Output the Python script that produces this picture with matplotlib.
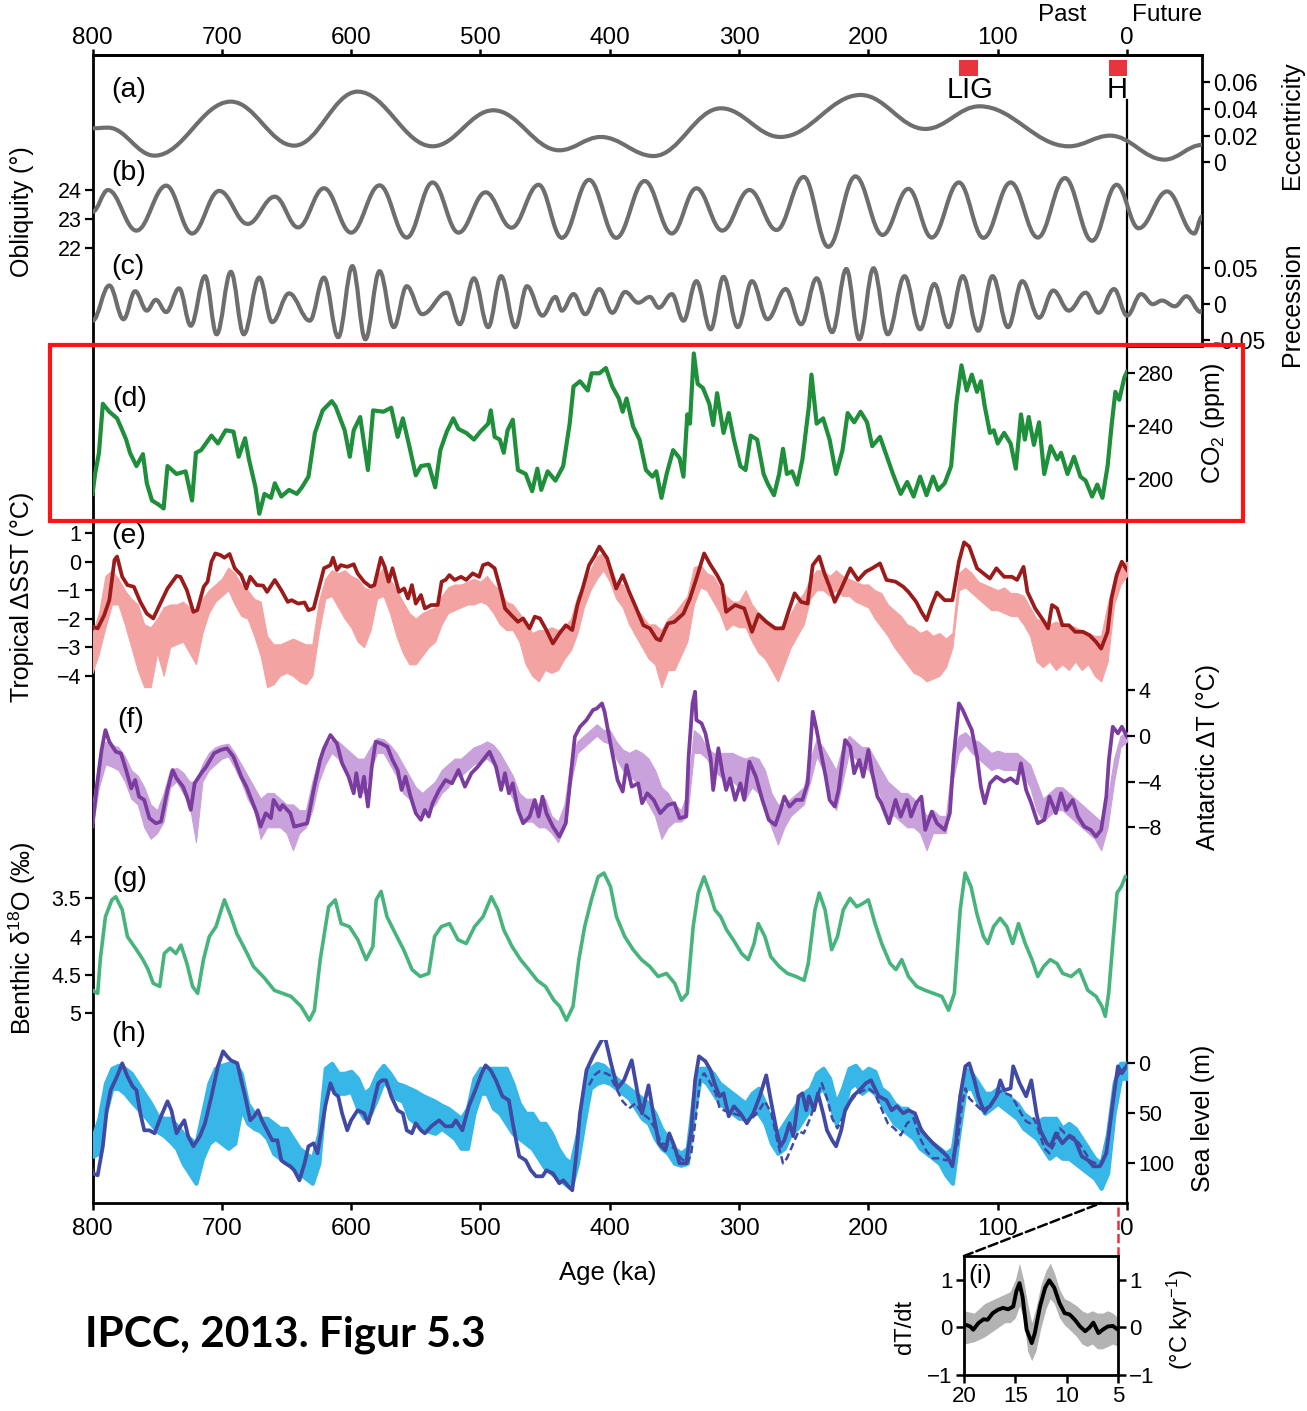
import numpy as np
import matplotlib
matplotlib.use('Agg')
import matplotlib.pyplot as plt
from matplotlib.path import Path
from matplotlib.patches import PathPatch, Rectangle, ConnectionPatch

plt.rcParams['font.family'] = ['Liberation Sans', 'DejaVu Sans']
plt.rcParams['mathtext.fontset'] = 'custom'
plt.rcParams['mathtext.rm'] = 'Liberation Sans'
plt.rcParams['mathtext.it'] = 'Liberation Sans:italic'

# ---------------- data (ages in ka) ----------------
ecc_age = [800, 788, 752, 693, 644, 595, 537, 490, 439, 407, 366, 314, 268, 206, 156, 114, 45, 13, -29, -58]
ecc_val = [0.0255, 0.026, 0.005, 0.0455, 0.0125, 0.053, 0.012, 0.039, 0.009, 0.019, 0.0047, 0.0405, 0.019,
           0.0505, 0.025, 0.042, 0.012, 0.020, 0.002, 0.013]

obl_age = [800, 788, 766, 743, 723, 702, 680, 659, 641, 621, 600, 578, 557, 537, 517, 496, 476, 455, 437, 416,
           395, 373, 352, 333, 313, 292, 271, 250, 231, 210, 189, 169, 151, 130, 111, 90, 69, 48, 27, 8,
           -9, -31, -52, -58]
obl_val = [23.25, 24.0, 22.6, 24.15, 22.5, 23.97, 22.83, 23.77, 22.71, 24.06, 22.53, 24.16, 22.36, 24.26, 22.53,
           23.92, 22.7, 24.18, 22.35, 24.35, 22.35, 24.31, 22.5, 24.06, 22.6, 24.0, 22.62, 24.45, 22.04, 24.47,
           22.45, 24.04, 22.36, 24.26, 22.35, 24.26, 22.36, 24.41, 22.25, 24.18, 22.68, 23.95, 22.5, 23.08]

pre_age = [800, 787, 776, 767, 758, 751, 743, 733, 724, 713, 704, 693, 683, 671, 661, 648, 632, 621, 610, 599,
           589, 578, 567, 557, 545, 526, 516, 505, 494, 484, 473, 464, 452, 442, 437, 428, 419, 408, 398, 388,
           378, 369, 362, 352, 343, 333, 322, 312, 301, 290, 278, 264, 252, 240, 228, 217, 207, 196, 185, 172,
           160, 149, 138, 127, 115, 104, 92, 81, 68, 57, 45, 32, 22, 10, 0, -11, -20, -27, -37, -46, -57, -58]
pre_val = [-0.023, 0.026, -0.021, 0.018, -0.009, 0.006, -0.011, 0.022, -0.030, 0.039, -0.042, 0.045, -0.042,
           0.037, -0.025, 0.015, -0.023, 0.037, -0.046, 0.053, -0.049, 0.046, -0.032, 0.025, -0.014, 0.016,
           -0.028, 0.036, -0.032, 0.039, -0.032, 0.025, -0.016, 0.010, -0.009, 0.014, -0.014, 0.021, -0.012,
           0.017, 0.002, 0.010, -0.005, 0.014, -0.023, 0.032, -0.035, 0.038, -0.032, 0.032, -0.021, 0.021,
           -0.028, 0.036, -0.039, 0.049, -0.049, 0.050, -0.042, 0.039, -0.035, 0.028, -0.032, 0.039, -0.037,
           0.039, -0.032, 0.032, -0.019, 0.019, -0.009, 0.016, -0.012, 0.021, -0.016, 0.014, 0.0, 0.005,
           -0.003, 0.011, -0.011, -0.009]

co2_age = [800, 798, 795, 792, 787, 781, 777, 774, 771, 766, 761, 758, 754, 749, 745, 742, 735, 728, 723, 720,
           716, 708, 703, 697, 691, 687, 682, 679, 674, 671, 667, 662, 659, 654, 648, 642, 638, 633, 628, 622,
           615, 612, 605, 601, 598, 593, 587, 583, 575, 569, 564, 560, 555, 550, 546, 540, 535, 531, 526, 521,
           517, 511, 505, 500, 494, 492, 489, 485, 482, 479, 475, 471, 465, 460, 456, 453, 448, 442, 436, 431,
           428, 423, 417, 414, 408, 403, 398, 393, 390, 387, 382, 377, 372, 367, 364, 360, 356, 351, 346, 343,
           340, 338, 335, 332, 328, 323, 320, 317, 312, 308, 304, 299, 295, 291, 286, 281, 278, 273, 269, 266,
           263, 259, 255, 251, 246, 244, 240, 235, 230, 225, 220, 216, 211, 206, 201, 197, 191, 186, 181, 175,
           170, 165, 160, 155, 150, 146, 141, 136, 132, 128, 124, 120, 116, 113, 110, 106, 103, 100, 95, 90,
           86, 82, 79, 76, 72, 68, 64, 59, 54, 51, 46, 41, 36, 32, 27, 23, 19, 15, 12, 9, 6, 2, 0]
co2_val = [189, 204, 220, 257, 251, 246, 237, 230, 220, 210, 219, 197, 184, 181, 178, 210, 204, 206, 184, 220,
           222, 233, 227, 237, 236, 217, 231, 215, 194, 174, 189, 186, 197, 187, 192, 189, 194, 202, 235, 252,
           259, 255, 237, 217, 237, 247, 207, 252, 251, 254, 232, 246, 225, 203, 210, 211, 194, 222, 236, 246,
           238, 235, 230, 236, 242, 252, 232, 230, 220, 237, 245, 207, 204, 191, 208, 192, 206, 199, 210, 242,
           270, 274, 267, 280, 280, 284, 270, 261, 251, 261, 240, 230, 207, 202, 206, 186, 204, 222, 216, 202,
           249, 242, 295, 272, 269, 257, 241, 265, 235, 250, 230, 210, 207, 233, 230, 204, 197, 188, 204, 223,
           204, 206, 196, 215, 255, 279, 242, 246, 230, 204, 222, 250, 243, 251, 243, 225, 232, 218, 204, 189,
           198, 187, 202, 188, 202, 192, 197, 210, 257, 286, 267, 279, 266, 274, 255, 235, 237, 227, 235, 227,
           208, 249, 230, 247, 226, 243, 204, 225, 215, 220, 204, 217, 202, 199, 187, 196, 186, 210, 240, 266,
           260, 277, 281]

sst_age = [800, 796, 791, 787, 783, 781, 777, 773, 768, 763, 758, 753, 747, 742, 735, 732, 727, 722, 719, 714,
           711, 708, 705, 701, 698, 694, 690, 685, 681, 678, 673, 668, 665, 659, 654, 649, 646, 641, 636, 633,
           629, 626, 621, 616, 614, 611, 608, 603, 598, 595, 590, 585, 582, 577, 574, 571, 568, 563, 559, 556,
           553, 550, 546, 543, 538, 533, 530, 527, 524, 520, 515, 511, 506, 501, 498, 494, 489, 484, 481, 476,
           471, 467, 462, 458, 454, 449, 444, 439, 434, 429, 425, 421, 416, 412, 408, 402, 395, 390, 385, 380,
           374, 369, 364, 361, 355, 350, 343, 338, 333, 327, 322, 317, 313, 310, 303, 296, 290, 285, 279, 272,
           266, 261, 257, 252, 247, 243, 238, 234, 230, 226, 221, 214, 208, 202, 197, 191, 186, 179, 173, 169,
           163, 159, 155, 151, 147, 141, 135, 130, 126, 122, 116, 111, 106, 101, 95, 89, 85, 80, 77, 71,
           64, 61, 58, 54, 50, 45, 40, 34, 29, 24, 20, 15, 12, 8, 4, 0]
sst_val = [-2.29, -2.34, -1.88, -1.35, 0.06, 0.18, -0.53, -0.82, -0.88, -1.41, -1.82, -1.99, -1.41, -0.94, -0.5,
           -0.53, -1.0, -1.76, -1.7, -0.88, -0.7, 0.0, 0.29, 0.23, 0.14, 0.27, -0.23, -0.47, -0.94, -0.53, -0.82,
           -0.84, -1.06, -0.64, -1.0, -1.41, -1.35, -1.47, -1.43, -1.7, -1.64, -1.11, -0.23, -0.12, 0.14, -0.29,
           -0.12, -0.18, -0.09, -0.41, -0.7, -0.88, -0.82, 0.14, -0.18, -0.7, -0.23, -1.06, -0.94, -1.29, -0.82,
           -1.47, -1.17, -1.64, -1.52, -1.52, -0.7, -0.64, -0.47, -0.64, -0.53, -0.64, -0.41, -0.53, -0.12, -0.06,
           -0.23, -1.06, -1.64, -1.88, -2.11, -1.99, -2.34, -1.93, -1.99, -2.4, -2.87, -2.52, -2.23, -2.4, -1.52,
           -0.94, -0.12, 0.18, 0.53, 0.12, -0.94, -0.47, -1.06, -1.58, -2.23, -2.34, -2.7, -2.76, -2.17, -2.11,
           -1.82, -1.29, -0.59, 0.29, -0.12, -0.47, -0.82, -1.76, -1.52, -1.64, -2.46, -1.85, -2.11, -2.34, -2.34,
           -1.64, -1.11, -1.41, -1.47, -0.12, 0.18, -0.41, -0.88, -1.41, -0.94, -0.23, -0.64, -0.35, -0.23, -0.06,
           -0.64, -0.7, -0.88, -1.06, -1.41, -1.76, -2.05, -1.52, -1.08, -1.35, -1.35, 0.0, 0.68, 0.53, -0.23,
           -0.41, -0.59, -0.23, -0.53, -0.53, -0.64, -0.18, -1.06, -1.64, -2.11, -2.34, -1.52, -1.64, -2.23, -2.23,
           -2.46, -2.46, -2.58, -2.81, -3.05, -2.46, -1.29, -0.47, 0.0, -0.29]

band_age = np.arange(800, -1, -5)
sst_top = [-2.5, -1.8, -0.5, -0.3, -0.6, -1.0, -1.3, -1.5, -2.2, -2.3,
           -2.0, -1.6, -1.5, -1.5, -1.4, -1.6, -1.8, -1.3, -1.0, -0.8,
           -0.6, -0.2, -0.4, -0.8, -1.0, -1.3, -1.4, -2.6, -2.9, -2.9,
           -2.8, -2.7, -2.8, -2.9, -2.9, -1.4, -0.6, -0.3, -0.4, -0.3,
           -0.5, -0.6, -0.9, -1.0, -0.5, -0.2, -0.6, -1.0, -1.4, -1.8,
           -2.0, -1.8, -1.7, -1.6, -1.2, -0.9, -0.8, -0.8, -0.7, -0.6,
           -0.7, -0.5, -0.8, -1.0, -1.4, -1.5, -1.8, -2.1, -2.5, -2.4,
           -2.4, -2.3, -2.4, -2.3, -2.0, -1.2, -0.8, -0.3, 0.2, 0.3,
           -0.1, -0.7, -0.8, -1.3, -1.6, -1.9, -2.2, -2.2, -2.4, -2.0,
           -1.8, -1.5, -1.2, -0.2, -0.1, -0.4, -0.5, -0.9, -1.2, -1.4,
           -1.4, -1.0, -1.5, -1.8, -2.0, -2.2, -2.3, -2.2, -1.8, -1.4,
           -1.1, -0.6, -0.3, -0.3, -0.5, -0.3, -0.5, -0.6, -0.7, -0.8,
           -0.8, -1.0, -1.1, -1.5, -1.7, -1.9, -2.2, -2.3, -2.5, -2.4,
           -2.6, -2.5, -2.7, -2.5, -0.4, -0.2, -0.4, -0.7, -0.8, -0.9,
           -1.0, -0.9, -1.1, -1.1, -1.2, -1.6, -2.0, -2.1, -2.2, -2.1,
           -2.2, -2.2, -2.3, -2.4, -2.5, -2.6, -2.6, -1.5, -0.6, -0.1,
           0.0]
sst_bot = [-3.9, -3.2, -2.3, -1.5, -1.5, -2.2, -3.0, -3.8, -4.4, -4.4,
           -3.2, -4.0, -3.0, -2.9, -2.8, -3.2, -3.6, -2.5, -1.8, -1.4,
           -1.2, -1.0, -1.5, -1.9, -2.0, -2.6, -3.3, -4.4, -4.3, -4.0,
           -3.9, -4.0, -4.2, -4.3, -4.0, -2.5, -1.3, -1.2, -1.6, -2.0,
           -2.3, -2.8, -3.0, -2.4, -1.3, -1.2, -1.8, -2.6, -3.2, -3.6,
           -3.6, -3.3, -3.0, -2.8, -2.2, -1.8, -1.7, -1.6, -1.5, -1.5,
           -1.4, -1.5, -1.8, -2.2, -2.4, -2.4, -2.8, -3.6, -4.0, -4.2,
           -3.8, -3.9, -3.8, -3.4, -3.1, -2.5, -1.6, -1.0, -0.6, -0.3,
           -0.7, -1.3, -1.6, -2.2, -2.6, -3.0, -3.4, -3.6, -4.4, -3.8,
           -3.8, -3.3, -2.8, -1.5, -0.9, -1.0, -1.4, -1.8, -2.4, -2.2,
           -2.3, -2.3, -2.8, -3.2, -3.4, -3.8, -4.2, -3.6, -3.0, -2.6,
           -2.2, -1.3, -1.0, -1.0, -1.2, -1.0, -1.2, -1.2, -1.4, -1.5,
           -1.6, -2.0, -2.3, -2.6, -3.0, -3.3, -3.6, -3.9, -4.0, -4.2,
           -4.1, -4.0, -3.7, -3.0, -1.0, -0.9, -1.1, -1.3, -1.5, -1.7,
           -1.7, -1.8, -1.9, -1.9, -2.2, -2.6, -3.5, -3.7, -3.5, -3.8,
           -3.6, -3.8, -3.5, -3.8, -3.6, -4.0, -4.2, -3.5, -1.5, -0.8,
           -0.5]

ant_age = [800, 797, 793, 790, 787, 782, 778, 774, 770, 767, 764, 760, 756, 751, 747, 742, 738, 735, 730, 727,
           724, 721, 716, 712, 706, 701, 696, 691, 688, 685, 681, 677, 673, 670, 666, 662, 660, 655, 653, 647,
           644, 639, 634, 629, 624, 621, 616, 611, 607, 602, 598, 596, 593, 590, 587, 584, 581, 577, 572, 568,
           564, 561, 558, 554, 550, 546, 543, 540, 537, 532, 527, 522, 517, 512, 507, 502, 498, 493, 488, 484,
           481, 478, 475, 471, 467, 462, 458, 455, 452, 449, 444, 439, 434, 430, 427, 423, 418, 413, 410, 406,
           404, 399, 394, 390, 387, 383, 378, 375, 371, 366, 361, 355, 350, 346, 341, 339, 336, 334, 333, 329,
           326, 322, 320, 316, 313, 310, 307, 303, 299, 296, 292, 287, 282, 277, 272, 268, 265, 261, 256, 251,
           247, 243, 240, 237, 233, 230, 226, 223, 218, 214, 211, 207, 204, 200, 197, 193, 190, 184, 179, 175,
           170, 167, 163, 159, 156, 151, 147, 141, 137, 134, 130, 127, 123, 120, 116, 113, 110, 106, 101, 95,
           90, 85, 82, 78, 74, 69, 64, 60, 55, 51, 47, 42, 38, 33, 28, 24, 20, 16, 14, 11, 7, 4, 0]
ant_val = [-7.8, -4.74, -1.25, 0.49, -0.52, -1.4, -1.54, -3.0, -4.6, -3.87, -5.32, -5.61, -7.2, -7.65, -7.5,
           -4.74, -3.0, -3.72, -4.45, -5.32, -6.48, -4.16, -3.28, -2.7, -1.54, -1.25, -1.1, -1.83, -2.7, -3.58,
           -4.45, -5.61, -6.77, -7.94, -6.77, -7.2, -5.61, -6.48, -6.05, -6.77, -7.94, -7.8, -7.65, -4.74, -2.12,
           -1.1, 0.06, -0.67, -2.41, -3.58, -5.03, -3.28, -5.32, -3.58, -6.19, -2.7, -0.52, -0.67, -0.96, -2.12,
           -3.0, -4.74, -3.58, -5.32, -6.77, -7.35, -6.48, -7.06, -5.9, -4.74, -3.87, -4.16, -3.0, -4.45, -3.28,
           -2.7, -2.12, -1.4, -2.7, -4.74, -3.28, -5.03, -4.16, -6.48, -7.65, -7.06, -5.61, -7.06, -5.32, -6.77,
           -7.94, -8.81, -7.65, -3.28, -0.09, 0.78, 1.37, 2.24, 2.38, 2.82,
           2.09, -0.96, -3.87, -4.88, -2.56, -4.45, -4.16, -5.9, -5.03, -5.61, -6.77, -6.05, -5.9, -7.2, -7.06,
           -1.83, 2.82, 3.84, 1.37, 1.08, 0.2, -1.98, -4.74, -1.1, -3.14, -4.74, -3.72, -5.61, -4.16, -5.61,
           -2.27, -3.58, -5.61, -7.35, -7.8, -6.48, -5.32, -6.19, -5.61, -5.61, -4.16, 2.09, 0.49, -1.25, -3.58,
           -5.61, -6.19, -4.74, -0.38, -0.96, -3.28, -2.12, -3.58, -1.25, -3.28, -5.32, -5.9, -7.65, -5.61,
           -7.06, -5.61, -7.06, -5.9, -5.32, -8.23, -6.63, -7.65, -8.23, -6.77, -1.83, 2.82, 2.24, 1.22, 0.49,
           -1.83, -4.45, -5.9, -4.16, -3.58, -4.01, -3.72, -4.16, -2.41, -4.74, -5.9, -7.65, -7.35, -5.32, -6.77,
           -5.03, -6.48, -5.61, -7.06, -7.94, -8.23, -8.81, -8.23, -5.32, -2.12, 0.78, 0.2, 0.78, -0.09]

ant_top = [-6.0, -2.0, -0.5, -0.8, -1.0, -1.8, -3.0, -3.5, -4.5, -6.0,
           -6.5, -5.0, -3.0, -2.8, -3.2, -4.0, -4.0, -2.5, -1.5, -1.0,
           -0.8, -0.7, -1.5, -2.5, -3.5, -4.5, -5.5, -5.0, -5.0, -5.5,
           -6.0, -6.0, -6.5, -6.5, -4.0, -2.0, -1.0, -0.3, -0.5, -1.0,
           -1.5, -2.0, -2.0, -1.0, -0.2, -0.3, -0.8, -1.5, -2.5, -3.5,
           -4.5, -5.0, -4.5, -4.0, -3.0, -2.5, -2.0, -2.0, -1.5, -1.0,
           -0.8, -0.5, -0.8, -1.5, -2.5, -3.5, -5.0, -5.5, -5.5, -6.0,
           -5.5, -7.0, -7.5, -6.0, -2.0, -0.5, 0.0, 0.5, 1.0, 0.5,
           0.5, -0.5, -1.2, -1.5, -1.2, -1.5, -2.0, -3.0, -4.5, -5.0,
           -6.0, -6.5, -5.0, 0.5, 0.0, -1.0, -1.5, -1.5, -1.5, -1.5,
           -1.8, -2.0, -1.8, -2.0, -3.0, -5.0, -6.0, -6.0, -5.5, -5.0,
           -4.5, -2.0, -0.3, -1.0, -2.0, -3.0, -1.0, 0.0, -0.5, -1.0,
           -1.0, -2.0, -3.0, -4.0, -4.5, -5.0, -5.0, -5.5, -6.0, -7.0,
           -6.5, -7.0, -7.0, -2.0, 0.0, 0.3, -0.3, -0.5, -1.0, -1.5,
           -1.3, -1.5, -1.5, -1.5, -2.0, -2.5, -4.0, -5.5, -5.0, -4.5,
           -4.5, -5.0, -5.5, -6.0, -6.5, -7.0, -7.5, -5.5, -2.0, 0.0,
           0.3]
ant_bot = [-8.0, -4.5, -2.5, -2.7, -3.0, -4.0, -5.5, -6.0, -8.0, -9.0,
           -8.5, -7.5, -4.5, -4.0, -5.0, -6.0, -9.3, -4.0, -3.0, -2.5,
           -2.0, -1.8, -2.8, -4.0, -5.5, -6.5, -9.0, -8.0, -8.0, -8.0,
           -8.5, -10.0, -8.5, -8.0, -6.5, -4.0, -2.5, -1.5, -2.0, -3.0,
           -4.0, -4.5, -5.0, -3.0, -1.5, -1.5, -2.5, -3.5, -5.0, -5.5,
           -6.5, -7.0, -6.5, -6.0, -5.0, -4.5, -3.5, -3.5, -3.0, -2.5,
           -2.3, -2.0, -2.5, -3.5, -4.5, -5.5, -7.0, -7.5, -7.5, -8.0,
           -8.0, -8.5, -9.3, -8.0, -4.0, -1.5, -1.0, -0.5, 0.0, -0.5,
           -0.7, -2.0, -3.0, -3.5, -4.0, -5.0, -6.0, -7.0, -9.0, -8.0,
           -7.5, -7.5, -7.0, -1.5, -1.5, -2.0, -3.0, -3.5, -4.0, -4.0,
           -4.5, -5.5, -4.5, -5.0, -6.5, -8.0, -9.5, -8.0, -7.0, -6.5,
           -6.0, -4.0, -1.8, -3.0, -5.0, -6.5, -4.0, -1.5, -2.0, -2.5,
           -3.0, -4.0, -5.5, -7.0, -7.0, -7.5, -8.0, -8.0, -8.5, -10.0,
           -8.5, -8.5, -8.5, -4.0, -1.5, -0.8, -1.5, -2.0, -2.5, -3.0,
           -2.8, -3.0, -3.0, -3.0, -3.5, -4.5, -6.5, -7.5, -7.0, -6.5,
           -6.5, -7.0, -7.5, -8.0, -8.5, -9.0, -10.0, -8.0, -4.0, -1.0,
           -0.5]

d18o_age = [800, 796, 794, 790, 785, 782, 777, 773, 766, 761, 757, 753, 748, 744.5, 740, 735.5, 731.6, 727,
            722.6, 718.7, 714.2, 709.7, 704.5, 698, 692.9, 688.4, 681.9, 675.5, 667, 659.4, 652.9, 646.5, 638.7,
            632.3, 628.4, 623.9, 617.4, 612.3, 607.7, 601.3, 594.8, 588.4, 583.2, 580.6, 576.8, 572.3, 565.8,
            559.4, 552.9, 546.5, 540, 535.5, 530.3, 523.9, 517.4, 511, 504.5, 498, 491.6, 486.5, 482, 475.5, 469,
            462.6, 456.1, 449.7, 443.2, 438.7, 433.5, 428.4, 423.9, 419.4, 414.2, 409, 404.5, 399.4, 394.8, 388.4,
            381.9, 375.5, 369, 362.6, 356.1, 349.7, 344.5, 340, 335.5, 331.6, 327.1, 322.6, 318.7, 314.2, 309.7,
            304.5, 298, 292.9, 288.4, 285.2, 280, 275.5, 269, 262.6, 256.1, 249.7, 246.5, 241.3, 238, 233.5,
            228.4, 223.9, 219.4, 214.2, 209, 204.5, 200, 194.8, 189.7, 183.2, 178.7, 174.2, 169, 162.6, 156.1,
            149.7, 143.2, 138, 133.5, 129, 125.2, 120.6, 116.1, 111, 107.7, 103.2, 98.1, 92.9, 88.4, 83.9, 78.7,
            73.5, 69, 64.5, 59.4, 54.2, 49.7, 43.2, 36.8, 30.3, 23.9, 19.4, 16.8, 14.2, 11, 7.7, 4.5, 1.3]
d18o_val = [4.70, 4.74, 4.30, 3.74, 3.52, 3.48, 3.65, 4.0, 4.17, 4.30, 4.43, 4.61, 4.65, 4.22, 4.15, 4.22, 4.11,
            4.35, 4.65, 4.74, 4.30, 4.0, 3.87, 3.52, 3.74, 3.96, 4.17, 4.39, 4.54, 4.70, 4.74, 4.78, 4.91, 5.09,
            4.96, 4.30, 3.61, 3.52, 3.83, 3.87, 4.04, 4.30, 4.13, 3.52, 3.41, 3.74, 3.96, 4.17, 4.43, 4.52, 4.48,
            4.0, 3.87, 3.83, 4.04, 4.09, 3.87, 3.74, 3.48, 3.65, 3.91, 4.13, 4.30, 4.43, 4.57, 4.65, 4.83, 4.91,
            5.09, 4.91, 4.30, 3.87, 3.52, 3.22, 3.17, 3.35, 3.74, 4.0, 4.17, 4.30, 4.39, 4.52, 4.48, 4.61, 4.83,
            4.74, 3.87, 3.43, 3.22, 3.43, 3.65, 3.74, 3.91, 4.04, 4.22, 4.30, 4.09, 3.83, 4.0, 4.26, 4.39, 4.48,
            4.52, 4.57, 4.35, 3.65, 3.43, 3.65, 4.17, 4.0, 3.65, 3.5, 3.61, 3.57, 3.52, 3.83, 4.09, 4.35, 4.43,
            4.30, 4.52, 4.65, 4.70, 4.74, 4.78, 4.96, 4.74, 3.65, 3.17, 3.35, 3.70, 4.0, 4.09, 3.87, 3.76, 3.87,
            4.09, 3.83, 4.09, 4.30, 4.52, 4.39, 4.30, 4.35, 4.48, 4.52, 4.43, 4.70, 4.78, 4.91, 5.04, 4.74, 4.09,
            3.43, 3.35, 3.22]

# sea level, metres below present
sl_age = [803, 800, 796, 792, 789, 786, 781, 777, 773, 769, 766, 763, 760, 756, 752, 747, 742, 739, 735, 732,
          729, 726, 722, 717, 713, 708, 703, 699, 696, 693, 688, 685, 682, 678, 675, 672, 669, 665, 661, 657,
          654, 651, 647, 644, 640, 636, 633, 629, 626, 623, 620, 616, 613, 610, 607, 603, 600, 595, 590, 587,
          584, 579, 576, 573, 569, 564, 560, 557, 553, 550, 546, 543, 538, 535, 532, 527, 522, 519, 514, 509,
          504, 499, 496, 492, 488, 483, 478, 475, 470, 465, 461, 457, 452, 449, 444, 439, 436, 432, 429, 426,
          423, 418, 413, 408, 404, 399, 394, 389, 383, 378, 375, 370, 366, 362, 357, 354, 350, 346, 341, 337,
          334, 331, 326, 322, 319, 315, 312, 308, 304, 299, 294, 289, 284, 279, 275, 271, 268, 265, 261, 258,
          254, 251, 248, 246, 242, 239, 235, 232, 228, 225, 221, 218, 212, 207, 202, 198, 195, 192, 186, 182,
          178, 173, 169, 164, 159, 155, 150, 144, 139, 135, 132, 129, 125, 122, 118, 115, 111, 106, 101, 98,
          95, 90, 88, 83, 78, 74, 70, 67, 62, 59, 55, 50, 45, 40, 35, 30, 26, 21, 16, 13, 10, 7, 4, 0]
sl_val = [90, 110, 112, 83, 47, 27, 13, 0, 13, 23, 27, 50, 67, 67, 70, 53, 38, 47, 70, 63,
          57, 73, 83, 73, 60, 33, 3, -12, -7, -3, 0, 17, 33, 57, 53, 47, 57, 67, 77, 77,
          97, 100, 103, 107, 117, 100, 83, 80, 90, 67, 43, 20, 30, 33, 50, 67, 57, 47, 50, 60,
          47, 20, 17, 17, 33, 47, 50, 67, 70, 60, 67, 70, 63, 60, 57, 63, 63, 57, 67, 43,
          27, 10, 2, 7, 17, 33, 37, 60, 93, 97, 107, 113, 113, 107, 110, 120, 117, 123, 127, 93,
          50, 7, -7, -19, -28, 0, 25, 17, -3, 33, 50, 22, 53, 80, 87, 70, 83, 100, 100, 67,
          17, -7, -2, 7, 20, 33, 30, 53, 43, 50, 60, 50, 33, 12, 40, 67, 83, 77, 60, 73,
          33, 30, 47, 33, 47, 30, 50, 67, 77, 83, 67, 47, 33, 27, 20, 17, 25, 33, 37, 47,
          43, 50, 47, 50, 67, 73, 80, 87, 93, 103, 77, 33, 3, 0, 17, 33, 47, 43, 33, 17,
          27, 25, 3, 20, 33, 17, 50, 67, 80, 83, 70, 80, 73, 77, 93, 97, 103, 103, 90, 60, 30, 3, 10, 2]

sl2_age = [416, 412, 408, 403, 400, 395, 390, 385, 380, 375, 370, 365, 360, 355, 350, 345, 340, 337, 333, 330,
           327, 322, 318, 315, 310, 305, 300, 295, 290, 285, 280, 275, 270, 266, 263, 258, 254, 250, 245, 240,
           236, 232, 228, 224, 220, 215, 210, 205, 200, 195, 190, 185, 180, 175, 170, 165, 160, 155, 150, 145,
           140, 135, 131, 128, 125, 122, 118, 114, 110, 106, 102, 98, 94, 90, 86, 82, 78, 75, 72, 68,
           64, 60, 56, 52, 48, 44, 40, 36, 32, 28, 24, 20, 17, 14, 11, 8, 5, 2]
sl2_val = [22, 12, 8, 10, 12, 25, 38, 45, 40, 50, 55, 65, 80, 82, 85, 95, 100, 90, 50, 15,
           10, 20, 30, 45, 48, 50, 52, 58, 55, 48, 38, 50, 80, 100, 95, 80, 68, 70, 55, 35,
           20, 35, 55, 65, 55, 40, 32, 28, 25, 30, 45, 60, 65, 72, 60, 55, 75, 88, 95, 95,
           97, 95, 80, 45, 25, 35, 40, 45, 50, 42, 35, 28, 30, 32, 40, 50, 58, 60, 55, 68,
           85, 90, 80, 65, 70, 72, 75, 82, 90, 98, 100, 102, 95, 70, 40, 15, 8, 5]

sl_top = [75, 55, 20, 5, 2, 5, 10, 20, 30, 40,
          52, 55, 55, 62, 70, 75, 80, 50, 20, 5,
          2, 0, 0, 10, 40, 50, 55, 55, 60, 65,
          65, 75, 85, 90, 95, 70, 5, 0, 10, 10,
          8, 15, 30, 25, 10, 2, 10, 20, 22, 25,
          28, 32, 35, 38, 42, 45, 50, 55, 45, 15,
          5, 5, 5, 5, 5, 20, 40, 50, 50, 60,
          60, 70, 85, 95, 100, 70, 25, 5, 0, 2,
          8, 15, 20, 25, 30, 35, 40, 50, 65, 75,
          85, 90, 85, 30, 5, 5, 10, 20, 25, 30,
          35, 40, 30, 25, 40, 60, 70, 60, 50, 40,
          30, 25, 10, 5, 15, 40, 25, 5, 2, 10,
          5, 8, 25, 30, 40, 45, 45, 55, 65, 75,
          80, 85, 90, 85, 40, 5, 10, 20, 30, 30,
          25, 30, 35, 40, 50, 55, 60, 55, 55, 55,
          65, 60, 65, 75, 85, 95, 100, 70, 20, 0,
          0]
sl_bot = [93, 90, 50, 25, 25, 30, 38, 45, 52, 60,
          68, 72, 78, 85, 100, 110, 120, 95, 80, 75,
          80, 85, 80, 45, 60, 65, 68, 75, 90, 95,
          100, 105, 110, 115, 120, 100, 30, 20, 30, 30,
          28, 45, 55, 50, 35, 18, 25, 35, 38, 55,
          60, 65, 68, 70, 65, 70, 75, 85, 85, 50,
          30, 30, 45, 50, 60, 70, 75, 80, 85, 95,
          105, 110, 115, 120, 125, 100, 60, 25, 20, 18,
          20, 25, 30, 35, 45, 55, 60, 75, 85, 90,
          100, 102, 100, 50, 15, 20, 30, 40, 45, 50,
          55, 55, 50, 50, 60, 80, 90, 85, 70, 65,
          55, 45, 30, 25, 40, 60, 50, 25, 20, 30,
          25, 30, 40, 50, 60, 65, 70, 75, 85, 90,
          95, 100, 112, 120, 70, 25, 25, 40, 50, 45,
          40, 45, 50, 55, 65, 70, 75, 85, 95, 90,
          95, 95, 100, 105, 110, 115, 125, 110, 50, 15,
          15]

dtdt_age = [19.9, 19.4, 19.1, 18.6, 18.1, 17.7, 17.2, 16.7, 16.2, 15.7, 15.2, 14.9, 14.6, 14.3, 13.9, 13.4,
            13.1, 12.6, 12.1, 11.7, 11.2, 10.7, 10.2, 9.7, 9.2, 8.7, 8.2, 7.8, 7.4, 6.9, 6.5, 6.0, 5.5, 5.0]
dtdt_val = [0.06, 0.02, -0.05, 0.09, 0.17, 0.16, 0.30, 0.37, 0.41, 0.38, 0.44, 0.76, 0.93, 0.65, -0.05, -0.33,
            -0.12, 0.44, 0.83, 0.99, 0.83, 0.51, 0.30, 0.27, 0.16, 0.02, -0.08, -0.01, 0.10, -0.12, -0.05, 0.02,
            0.03, -0.05]
dtdt_band_age = [20, 19, 18, 17, 16, 15.5, 15, 14.6, 14.2, 13.8, 13.4, 13.0, 12.5, 12.0, 11.6, 11.2, 10.7,
                 10.2, 9.7, 9.0, 8.5, 8.0, 7.5, 7.0, 6.5, 6.0, 5.5, 5.0]
dtdt_hi = [0.35, 0.3, 0.5, 0.6, 0.7, 0.75, 1.0, 1.35, 1.0, 0.5, 0.1, 0.4, 0.9, 1.2, 1.35, 1.15, 0.8, 0.6, 0.55,
           0.45, 0.35, 0.3, 0.35, 0.3, 0.3, 0.35, 0.3, 0.2]
dtdt_lo = [-0.35, -0.3, -0.2, -0.05, 0.1, 0.1, 0.2, 0.45, 0.2, -0.5, -0.7, -0.5, 0.0, 0.4, 0.6, 0.5, 0.2, 0.05,
           -0.05, -0.2, -0.35, -0.4, -0.35, -0.45, -0.45, -0.4, -0.35, -0.4]

lig_span = (115, 130)
hol_span = (0, 14.3)

# ---------------- layout ----------------
W, H = 1307, 1411
X0, XZ, XF = 92.5, 1127.0, 1202.0
KA_PX = (XZ - X0) / 800
AGE_FUT = -(XF - XZ) / KA_PX
YT, YB = 55, 1203

GREY = '#6e6e6e'
fig = plt.figure(figsize=(W / 100, H / 100), dpi=100)


def fx(x):
    return x / W


def fy(y):
    return 1 - y / H


def panel(ytop, ybot, va, ya, vb, yb, future=False, side='right'):
    xr = XF if future else XZ
    ax = fig.add_axes([fx(X0), fy(ybot), (xr - X0) / W, (ybot - ytop) / H])
    k = (vb - va) / (yb - ya)
    ax.set_ylim(va + (ybot - ya) * k, va + (ytop - ya) * k)
    ax.set_xlim(800, AGE_FUT if future else 0)
    ax.patch.set_visible(False)
    for s in ax.spines.values():
        s.set_visible(False)
    ax.set_xticks([])
    if side == 'right':
        ax.yaxis.tick_right()
    else:
        ax.yaxis.tick_left()
    ax.tick_params(axis='y', labelsize=15.5, width=1.6, length=6, pad=2, direction='out')
    return ax


def smooth(ax, ages, vals, **kw):
    verts = [(ages[0], vals[0])]
    codes = [Path.MOVETO]
    for a0, v0, a1, v1 in zip(ages[:-1], vals[:-1], ages[1:], vals[1:]):
        d = 0.38 * (a1 - a0)
        verts += [(a0 + d, v0), (a1 - d, v1), (a1, v1)]
        codes += [Path.CURVE4] * 3
    ax.add_patch(PathPatch(Path(verts, codes), fill=False, capstyle='round', **kw))


# frame
frame = fig.add_axes([fx(X0), fy(YB), (XF - X0) / W, (YB - YT) / H])
frame.set_xlim(800, AGE_FUT)
frame.set_ylim(0, 1)
frame.patch.set_visible(False)
frame.set_yticks([])
frame.set_xticks(range(800, -1, -100))
frame.tick_params(axis='x', direction='out', length=5, width=1.8, labelsize=17.5, pad=6)
for s in frame.spines.values():
    s.set_linewidth(2)
top = frame.secondary_xaxis('top')
top.set_xticks(range(800, -1, -100))
top.tick_params(axis='x', direction='out', length=4, width=1.8, labelsize=17.5, pad=0.5)
top.spines['top'].set_linewidth(2)
yb_box = (YB - 346) / (YB - YT)
frame.spines['right'].set_bounds(yb_box, 1)
frame.spines['bottom'].set_bounds(800, 0)
frame.plot([0, 0], [0, (YB - 100) / (YB - YT)], color='k', lw=1.6)
frame.plot([0, AGE_FUT], [yb_box, yb_box], color='k', lw=2)
sq0, sq1 = (YB - 76) / (YB - YT), (YB - 60) / (YB - YT)
frame.axvspan(lig_span[1], lig_span[0], sq0, sq1, color='#e8353d', lw=0)
frame.axvspan(hol_span[1], hol_span[0], sq0, sq1, color='#e8353d', lw=0)

# (a) eccentricity
ax_a = panel(58, 180, 0.06, 82.3, 0.0, 162.3, future=True)
smooth(ax_a, ecc_age, ecc_val, ec=GREY, lw=3)
ax_a.set_yticks([0, 0.02, 0.04, 0.06])
ax_a.set_yticklabels(['0', '0.02', '0.04', '0.06'])
ax_a.tick_params(axis='y', labelsize=16.5)

# (b) obliquity
ax_b = panel(160, 262, 24, 190, 22, 248, future=True, side='left')
smooth(ax_b, obl_age, obl_val, ec=GREY, lw=3)
ax_b.set_yticks([22, 23, 24])

# (c) precession
ax_c = panel(250, 350, 0.05, 268.3, -0.05, 340, future=True)
smooth(ax_c, pre_age, pre_val, ec=GREY, lw=3)
ax_c.set_yticks([-0.05, 0, 0.05])
ax_c.set_yticklabels(['-0.05', '0', '0.05'])
ax_c.tick_params(axis='y', labelsize=16.5)

# (d) CO2
ax_d = panel(345, 520, 280, 373.3, 200, 479.3)
ax_d.plot(co2_age, co2_val, color='#1f8f3c', lw=3)
ax_d.set_yticks([200, 240, 280])

# (e) tropical SST
ax_e = panel(525, 700, 0, 561.7, -4, 675.7, side='left')
ax_e.fill_between(band_age, sst_bot, sst_top, color='#f4a3a3', lw=0.8, ec='#f4a3a3')
ax_e.plot(sst_age, sst_val, color='#9b1b1b', lw=2.7)
ax_e.set_yticks([-4, -3, -2, -1, 0, 1])

# (f) Antarctic temperature
ax_f = panel(680, 865, 0, 735.7, -8, 827.3)
ax_f.fill_between(band_age, ant_bot, ant_top, color='#c9a1db', lw=0.8, ec='#c9a1db')
ax_f.plot(ant_age, ant_val, color='#7a3c9e', lw=2.7)
ax_f.set_yticks([-8, -4, 0, 4])

# (g) benthic d18O
ax_g = panel(860, 1030, 3.5, 898.3, 5.0, 1013.3, side='left')
ax_g.plot(d18o_age, d18o_val, color='#46b47c', lw=2.6)
ax_g.set_yticks([3.5, 4, 4.5, 5])
ax_g.set_yticklabels(['3.5', '4', '4.5', '5'])

# (h) sea level
ax_h = panel(1040, 1203, 0, 1063.3, 100, 1163.3)
ax_h.fill_between(band_age, sl_bot, sl_top, color='#37b6e8', lw=3, ec='#37b6e8')
ax_h.plot(sl2_age, sl2_val, color='#4049a3', lw=1.8, ls=(0, (3, 1.5)))
ax_h.plot(sl_age, sl_val, color='#4049a3', lw=2.7)
ax_h.set_yticks([0, 50, 100])

# panel letters
for lab, (px, py) in zip('abcdefgh', [(111, 90), (111, 173), (111, 267), (112, 399), (111, 536),
                                      (117, 720), (112, 879), (111, 1034)]):
    fig.text(fx(px), fy(py), '(%s)' % lab, fontsize=20.5, ha='left', va='center')

# axis titles
fig.text(fx(22), fy(212), 'Obliquity (°)', rotation=90, fontsize=18, ha='center', va='center')
fig.text(fx(22), fy(597), 'Tropical ΔSST (°C)', rotation=90, fontsize=18, ha='center', va='center')
fig.text(fx(22), fy(938), 'Benthic δ$^{18}$O (‰)', rotation=90, fontsize=18, ha='center', va='center')
fig.text(fx(1292), fy(125), 'Eccentricity', rotation=90, fontsize=18, ha='center', va='center')
fig.text(fx(1292), fy(304), 'Precession', rotation=90, fontsize=18, ha='center', va='center')
fig.text(fx(1213), fy(424), 'CO$_2$ (ppm)', rotation=90, fontsize=18, ha='center', va='center')
fig.text(fx(1208), fy(757), 'Antarctic ΔT (°C)', rotation=90, fontsize=18, ha='center', va='center')
fig.text(fx(1203), fy(1118), 'Sea level (m)', rotation=90, fontsize=18, ha='center', va='center')
fig.text(fx(608), fy(1273), 'Age (ka)', fontsize=18.5, ha='center', va='center')
fig.text(fx(1062), fy(15), 'Past', fontsize=17.5, ha='center', va='center')
fig.text(fx(1167), fy(15), 'Future', fontsize=17.5, ha='center', va='center')
fig.text(fx(970), fy(90), 'LIG', fontsize=21, ha='center', va='center')
fig.text(fx(1117), fy(90), 'H', fontsize=21, ha='center', va='center')

# red box around (d)
fig.add_artist(Rectangle((fx(50), fy(521)), (1243 - 50) / W, (521 - 345) / H, transform=fig.transFigure,
                         fill=False, ec='#ff1414', lw=3, zorder=20))

# (i) inset
ins = fig.add_axes([fx(964), fy(1375), (1118 - 964) / W, (1375 - 1256) / H])
ins.set_xlim(20, 5)
ins.set_ylim(-1, 1.5)
ins.fill_between(dtdt_band_age, dtdt_lo, dtdt_hi, color='#b3b3b3', lw=0)
ins.plot(dtdt_age, dtdt_val, color='k', lw=2.8)
ins.set_xticks([20, 15, 10, 5])
ins.set_yticks([-1, 0, 1])
ins.tick_params(right=True, labelright=True, direction='out', labelsize=16, length=6, width=1.8, pad=2)
for s in ins.spines.values():
    s.set_linewidth(2)
ins.text(0.03, 0.83, '(i)', transform=ins.transAxes, fontsize=19, ha='left', va='center')
fig.text(fx(905), fy(1327), 'dT/dt', rotation=90, fontsize=17, ha='center', va='center')
fig.text(fx(1180), fy(1320), '(°C kyr$^{-1}$)', rotation=90, fontsize=17, ha='center', va='center')

# zoom connectors: inset corners up to the main age axis
fig.add_artist(ConnectionPatch(xyA=(20, 1.5), coordsA=ins.transData, xyB=(20, 0), coordsB=frame.transData,
                               ls='--', color='k', lw=1.8))
ins.plot([1, 1], [1, 1 + (1256 - YB) / (1375 - 1256)], transform=ins.transAxes, clip_on=False,
         ls='--', color='#e8353d', lw=1.8)

fig.text(fx(85), fy(1335), 'IPCC, 2013. Figur 5.3', fontsize=30.5, fontweight='bold', family='Lato',
         ha='left', va='center')

fig.savefig('out.png', dpi=100)
